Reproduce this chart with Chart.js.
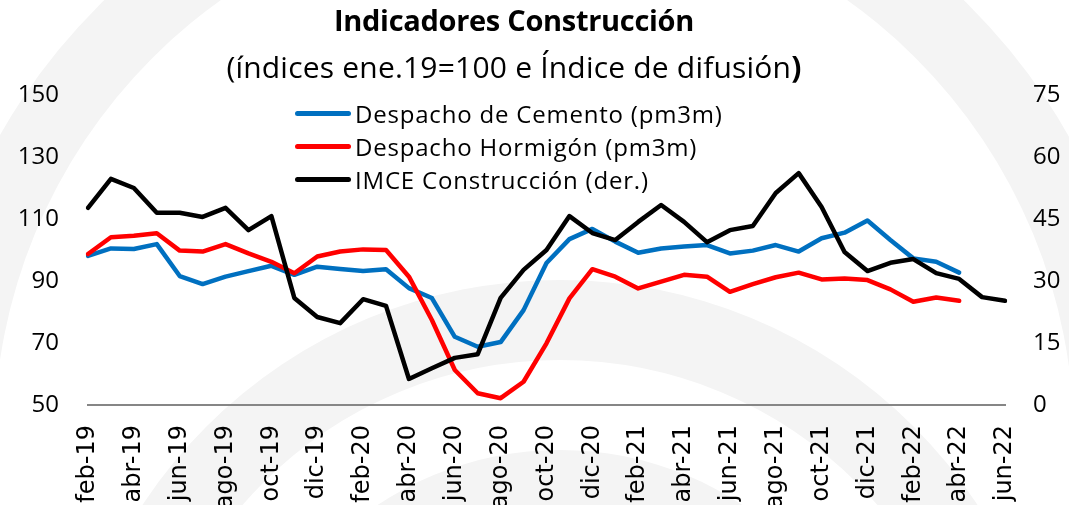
<!DOCTYPE html>
<html lang="es">
<head>
    <meta charset="UTF-8">
    <title>Indicadores Construcción</title>
    <script src="https://cdn.jsdelivr.net/npm/chart.js"></script>
    <style>
        body {
            margin: 0;
            background: #fff;
            font-family: 'Open Sans', sans-serif;
        }

        .wrap {
            position: relative;
            width: 1069px;
            height: 505px;
            overflow: hidden;
        }

        canvas {
            position: absolute;
            left: 0;
            top: 0;
        }

        .title, .subtitle {
            position: absolute;
            left: 0;
            width: 1028px;
            text-align: center;
            color: #000;
            line-height: 34px;
            white-space: nowrap;
        }

        .title {
            top: 3px;
            font-size: 29px;
            font-weight: bold;
            letter-spacing: -0.3px;
        }

        .subtitle {
            top: 50px;
            font-size: 30px;
            letter-spacing: 0.2px;
        }

        #legend {
            position: absolute;
            left: 295px;
            top: 97px;
        }

        .legend-row {
            display: flex;
            align-items: center;
            height: 33px;
            font-size: 24px;
            letter-spacing: 0.8px;
            color: #000;
            white-space: nowrap;
        }

        .legend-line {
            width: 56px;
            height: 5px;
            border-radius: 3px;
            margin-right: 4px;
        }
    </style>
</head>
<body>

<div class="wrap">
    <canvas id="chart" width="1069" height="505"></canvas>
    <div class="title">Indicadores Construcción</div>
    <div class="subtitle">(índices ene.19=100 e Índice de difusión<b>)</b></div>
    <div id="legend"></div>
</div>

<script>
    // meses feb-19 .. jun-22
    const months = [
        'feb-19', 'mar-19', 'abr-19', 'may-19', 'jun-19', 'jul-19', 'ago-19', 'sep-19', 'oct-19', 'nov-19', 'dic-19',
        'ene-20', 'feb-20', 'mar-20', 'abr-20', 'may-20', 'jun-20', 'jul-20', 'ago-20', 'sep-20', 'oct-20', 'nov-20', 'dic-20',
        'ene-21', 'feb-21', 'mar-21', 'abr-21', 'may-21', 'jun-21', 'jul-21', 'ago-21', 'sep-21', 'oct-21', 'nov-21', 'dic-21',
        'ene-22', 'feb-22', 'mar-22', 'abr-22', 'may-22', 'jun-22'
    ];

    const cemento = [
        98.1, 100.5, 100.3, 101.9, 91.6, 89.0, 91.4, 93.2, 94.9, 92.0, 94.6,
        93.9, 93.2, 93.8, 87.7, 84.5, 72.0, 68.8, 70.3, 80.6, 95.8, 103.5, 106.8,
        102.7, 99.1, 100.5, 101.1, 101.6, 98.9, 99.8, 101.6, 99.5, 103.8, 105.6, 109.5,
        103.2, 97.3, 96.2, 92.7, null, null
    ];

    const hormigon = [
        98.7, 104.1, 104.6, 105.4, 99.8, 99.5, 101.9, 98.9, 96.2, 92.5, 97.9,
        99.5, 100.2, 100.0, 91.4, 77.4, 61.3, 53.8, 52.2, 57.5, 69.9, 84.4, 93.8,
        91.4, 87.6, 89.8, 92.0, 91.4, 86.5, 89.0, 91.2, 92.7, 90.5, 90.8, 90.3,
        87.3, 83.3, 84.7, 83.6, null, null
    ];

    const imce = [
        47.7, 54.7, 52.5, 46.5, 46.5, 45.5, 47.7, 42.3, 45.7, 25.9, 21.3,
        19.8, 25.6, 24.0, 6.3, 8.9, 11.4, 12.3, 25.9, 32.7, 37.5, 45.7, 41.6,
        39.9, 44.3, 48.4, 44.3, 39.4, 42.3, 43.3, 51.3, 56.1, 47.9, 37.0, 32.4,
        34.4, 35.3, 31.9, 30.5, 26.1, 25.2
    ];

    const leftTicks = { min: 50, max: 150, step: 20 };
    const rightTicks = { min: 0, max: 75, step: 15 };

    // marca de agua (arcos gris claro detras del grafico)
    const watermark = {
        id: 'watermark',
        beforeDraw(chart) {
            const ctx = chart.ctx;
            const rings = [
                [534, 440, 540, 615],
                [560, 780, 420, 500],
                [560, 780, 260, 330]
            ];
            ctx.save();
            ctx.fillStyle = '#f4f4f4';
            rings.forEach(r => {
                ctx.beginPath();
                ctx.arc(r[0], r[1], r[3], 0, Math.PI * 2);
                ctx.arc(r[0], r[1], r[2], 0, Math.PI * 2, true);
                ctx.fill();
            });
            ctx.restore();
        }
    };

    const tickFont = { family: 'Open Sans', size: 24 };

    const chart = new Chart(document.getElementById('chart'), {
        type: 'line',
        data: {
            labels: months,
            datasets: [
                {
                    label: 'Despacho de Cemento (pm3m)',
                    data: cemento,
                    borderColor: '#0070C0',
                    yAxisID: 'y',
                    order: 2
                },
                {
                    label: 'Despacho Hormigón (pm3m)',
                    data: hormigon,
                    borderColor: '#FF0000',
                    yAxisID: 'y',
                    order: 1
                },
                {
                    label: 'IMCE Construcción (der.)',
                    data: imce,
                    borderColor: '#000000',
                    yAxisID: 'y1',
                    order: 0
                }
            ]
        },
        options: {
            responsive: false,
            animation: false,
            layout: { padding: { top: 95 } },
            elements: {
                line: { borderWidth: 4.5, tension: 0, borderCapStyle: 'round', borderJoinStyle: 'round' },
                point: { radius: 0 }
            },
            plugins: {
                legend: { display: false },
                tooltip: { enabled: false }
            },
            scales: {
                x: {
                    offset: false,
                    grid: { display: false, drawTicks: false },
                    border: { display: true, color: '#868686', width: 2 },
                    ticks: {
                        autoSkip: false,
                        minRotation: 90,
                        maxRotation: 90,
                        padding: 20,
                        color: '#000',
                        font: { family: 'DejaVu Sans', size: 24 },
                        callback: function (value, index) {
                            return index % 2 === 0 ? months[index] : null;
                        }
                    },
                    afterFit: scale => { scale.height = 100; }
                },
                y: {
                    position: 'left',
                    min: leftTicks.min,
                    max: leftTicks.max,
                    grid: { display: false, drawTicks: false },
                    border: { display: false },
                    ticks: { stepSize: leftTicks.step, padding: 29, color: '#000', font: tickFont },
                    afterFit: scale => { scale.width = 88; }
                },
                y1: {
                    position: 'right',
                    min: rightTicks.min,
                    max: rightTicks.max,
                    grid: { display: false, drawTicks: false },
                    border: { display: false },
                    ticks: { stepSize: rightTicks.step, padding: 28, color: '#000', font: tickFont },
                    afterFit: scale => { scale.width = 64; }
                }
            }
        },
        plugins: [watermark]
    });

    // leyenda dentro del area del grafico
    const legendBox = document.getElementById('legend');
    chart.data.datasets.forEach(ds => {
        const row = document.createElement('div');
        row.className = 'legend-row';
        row.innerHTML = `<span class="legend-line" style="background:${ds.borderColor}"></span><span>${ds.label}</span>`;
        legendBox.appendChild(row);
    });
</script>

</body>
</html>
